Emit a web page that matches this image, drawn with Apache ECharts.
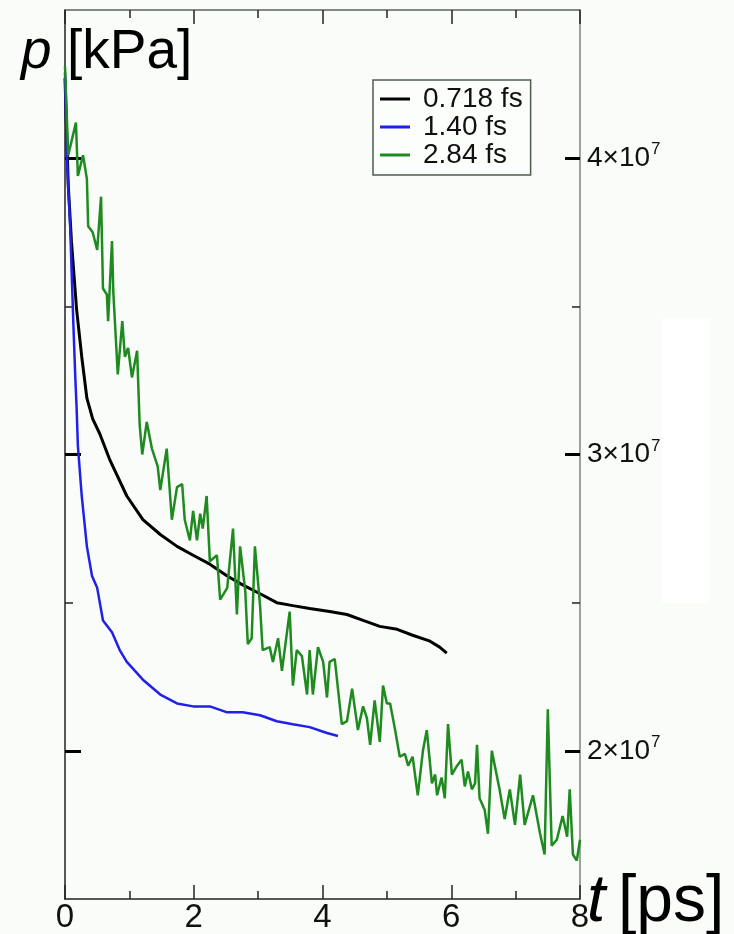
<!DOCTYPE html>
<html>
<head>
<meta charset="utf-8">
<script src="https://cdn.jsdelivr.net/npm/echarts@6.0.0/dist/echarts.min.js"></script>
<style>
  body { margin: 0; background: #f9fcf9; }
  #main { width: 734px; height: 934px; }
</style>
</head>
<body>
<div id="main"></div>
<script>
// pressure values are in units of 10^7 kPa, time in ps
const tBlack = [0, 0.05, 0.10, 0.18, 0.26, 0.34, 0.43, 0.54, 0.70, 0.96, 1.21, 1.48, 1.74, 1.99, 2.25, 2.52, 2.76, 3.03, 3.29, 3.54, 3.80, 4.11, 4.38, 4.63, 4.89, 5.16, 5.40, 5.67, 5.82, 5.93];
const pBlack = [4.27, 3.91, 3.72, 3.49, 3.33, 3.19, 3.12, 3.07, 2.98, 2.86, 2.78, 2.73, 2.69, 2.66, 2.63, 2.59, 2.56, 2.53, 2.50, 2.49, 2.48, 2.47, 2.46, 2.44, 2.42, 2.41, 2.39, 2.37, 2.35, 2.33];

const tBlue = [0, 0.03, 0.08, 0.13, 0.16, 0.18, 0.20, 0.26, 0.34, 0.42, 0.50, 0.59, 0.73, 0.85, 0.96, 1.21, 1.48, 1.74, 1.99, 2.25, 2.52, 2.76, 3.03, 3.29, 3.54, 3.80, 4.07, 4.24];
const pBlue = [4.29, 4.00, 3.77, 3.44, 3.26, 3.16, 3.03, 2.86, 2.69, 2.59, 2.55, 2.44, 2.40, 2.34, 2.30, 2.24, 2.19, 2.16, 2.15, 2.15, 2.13, 2.13, 2.12, 2.10, 2.09, 2.08, 2.06, 2.05];

const tGreen = [0.00, 0.05, 0.17, 0.20, 0.28, 0.34, 0.36, 0.43, 0.50, 0.56, 0.59, 0.65, 0.67, 0.73, 0.75, 0.82, 0.89, 0.93, 0.98, 1.04,
  1.12, 1.16, 1.20, 1.27, 1.35, 1.44, 1.48, 1.58, 1.66, 1.74, 1.82, 1.86, 1.94, 1.99, 2.05, 2.10, 2.14, 2.20, 2.25, 2.36,
  2.41, 2.52, 2.61, 2.67, 2.72, 2.80, 2.84, 2.90, 2.95, 3.03, 3.07, 3.18, 3.23, 3.31, 3.37, 3.49, 3.54, 3.60, 3.68, 3.76,
  3.80, 3.85, 3.93, 4.01, 4.07, 4.11, 4.19, 4.30, 4.38, 4.46, 4.55, 4.63, 4.69, 4.74, 4.81, 4.89, 4.94, 5.00, 5.05, 5.12,
  5.20, 5.28, 5.33, 5.40, 5.48, 5.56, 5.62, 5.70, 5.75, 5.78, 5.85, 5.90, 5.95, 6.01, 6.09, 6.16, 6.21, 6.26, 6.32, 6.37,
  6.40, 6.44, 6.52, 6.57, 6.63, 6.75, 6.83, 6.91, 6.99, 7.07, 7.14, 7.27, 7.38, 7.45, 7.50, 7.56, 7.64, 7.73, 7.80, 7.84,
  7.89, 7.95, 8.00];
const pGreen = [4.31, 4.01, 4.12, 3.94, 4.01, 3.93, 3.77, 3.75, 3.69, 3.87, 3.56, 3.54, 3.45, 3.72, 3.55, 3.27, 3.45, 3.33, 3.36, 3.26,
  3.35, 3.10, 3.00, 3.11, 3.02, 2.96, 2.88, 3.02, 2.78, 2.89, 2.90, 2.78, 2.71, 2.81, 2.71, 2.80, 2.75, 2.86, 2.64, 2.66,
  2.51, 2.55, 2.75, 2.46, 2.69, 2.54, 2.36, 2.38, 2.69, 2.49, 2.34, 2.35, 2.30, 2.38, 2.27, 2.47, 2.22, 2.34, 2.32, 2.19,
  2.34, 2.19, 2.35, 2.30, 2.18, 2.30, 2.31, 2.09, 2.10, 2.21, 2.07, 2.15, 2.11, 2.02, 2.17, 2.03, 2.22, 2.16, 2.16, 2.08,
  1.98, 1.99, 1.95, 1.98, 1.85, 2.00, 2.07, 1.89, 1.92, 1.85, 1.91, 1.84, 2.09, 1.92, 1.95, 1.97, 1.88, 1.93, 1.87, 1.89,
  2.02, 1.84, 1.80, 1.72, 2.00, 1.87, 1.77, 1.87, 1.75, 1.92, 1.75, 1.85, 1.72, 1.65, 2.14, 1.68, 1.70, 1.78, 1.71, 1.87,
  1.65, 1.63, 1.70];

const seriesNames = ['0.718 fs', '1.40 fs', '2.84 fs'];
const xTicks = [0, 2, 4, 6, 8];
const yMajor = [2, 3, 4];
const yMinor = [2.5, 3.5];

function pairs(t, p) {
  return t.map((v, i) => [v, p[i]]);
}

let chartDom = document.getElementById('main');
let myChart = echarts.init(chartDom, null, { renderer: 'canvas' });

let xCommon = {
  type: 'value',
  min: xTicks[0],
  max: xTicks[xTicks.length - 1],
  interval: 2,
  splitLine: { show: false },
  axisTick: { inside: true, length: 14, lineStyle: { color: '#222', width: 1.5 } },
  minorTick: { show: true, splitNumber: 2, length: 8, lineStyle: { color: '#222', width: 1.5 } }
};

let yCommon = {
  type: 'value',
  min: 1.5,
  max: 4.5,
  splitLine: { show: false },
  axisLabel: { show: false }
};

let option = {
  backgroundColor: '#f9fcf9',
  animation: false,
  grid: { left: 65, right: 154, top: 10, bottom: 34 },
  legend: {
    data: seriesNames,
    orient: 'vertical',
    left: 373,
    top: 80,
    padding: [5, 8, 6, 7],
    itemGap: 0,
    itemWidth: 30,
    itemHeight: 3,
    icon: 'rect',
    borderColor: '#4d5d4d',
    borderWidth: 1.5,
    borderRadius: 0,
    backgroundColor: '#fcfefc',
    textStyle: { fontFamily: 'Liberation Sans', fontSize: 28, lineHeight: 27, color: '#111', padding: [0, 0, 0, 8] }
  },
  xAxis: [
    Object.assign({}, xCommon, {
      position: 'bottom',
      axisLine: { lineStyle: { color: '#222', width: 1.5 } },
      axisLabel: { fontFamily: 'Liberation Sans Narrow, Liberation Sans', fontSize: 33, color: '#111', margin: 2 }
    }),
    Object.assign({}, xCommon, {
      position: 'top',
      axisLine: { lineStyle: { color: '#556655', width: 1.5 } },
      axisLabel: { show: false }
    })
  ],
  yAxis: [
    Object.assign({}, yCommon, {
      position: 'left',
      axisLine: { show: true, lineStyle: { color: '#222', width: 1.5 } },
      axisTick: { inside: true, length: 16, customValues: yMajor, lineStyle: { color: '#000', width: 3 } }
    }),
    Object.assign({}, yCommon, {
      position: 'left',
      axisLine: { show: false },
      axisTick: { inside: true, length: 8, customValues: yMinor, lineStyle: { color: '#222', width: 1.5 } }
    }),
    Object.assign({}, yCommon, {
      position: 'right',
      axisLine: { show: true, lineStyle: { color: '#778877', width: 1.5 } },
      axisTick: { inside: true, length: 15, customValues: yMajor, lineStyle: { color: '#000', width: 3 } },
      axisLabel: {
        show: true,
        customValues: yMajor,
        margin: 7,
        fontFamily: 'Liberation Sans',
        fontSize: 28,
        color: '#111',
        formatter: v => '{a|' + v + '×10}{b|7}',
        rich: {
          a: { fontFamily: 'Liberation Sans', fontSize: 28, color: '#111' },
          b: { fontFamily: 'Liberation Sans', fontSize: 17, color: '#111', verticalAlign: 'top', padding: [0, 0, 17, 1] }
        }
      }
    }),
    Object.assign({}, yCommon, {
      position: 'right',
      axisLine: { show: false },
      axisTick: { inside: true, length: 8, customValues: yMinor, lineStyle: { color: '#222', width: 1.5 } }
    })
  ],
  graphic: [
    // pale patch at the right edge of the original picture
    { type: 'rect', left: 662, top: 318, shape: { width: 48, height: 285 }, style: { fill: '#ffffff' }, silent: true },
    { type: 'text', left: 21, top: 25, style: { text: 'p', font: 'italic 55px Liberation Sans', fill: '#000' } },
    { type: 'text', left: 67, top: 25, style: { text: '[kPa]', font: '55px Liberation Sans', fill: '#000' } },
    { type: 'text', left: 587, top: 870, style: { text: 't', font: 'italic 66px Liberation Sans', fill: '#000' } },
    { type: 'text', left: 618, top: 870, style: { text: '[ps]', font: '66px Liberation Sans', fill: '#000' } }
  ],
  series: [
    {
      name: seriesNames[0],
      type: 'line',
      showSymbol: false,
      color: '#000000',
      lineStyle: { width: 3 },
      data: pairs(tBlack, pBlack)
    },
    {
      name: seriesNames[1],
      type: 'line',
      showSymbol: false,
      color: '#2020e8',
      lineStyle: { width: 2.5 },
      data: pairs(tBlue, pBlue)
    },
    {
      name: seriesNames[2],
      type: 'line',
      showSymbol: false,
      color: '#1f8a1f',
      lineStyle: { width: 2.5 },
      data: pairs(tGreen, pGreen)
    }
  ]
};

myChart.setOption(option);
</script>
</body>
</html>
